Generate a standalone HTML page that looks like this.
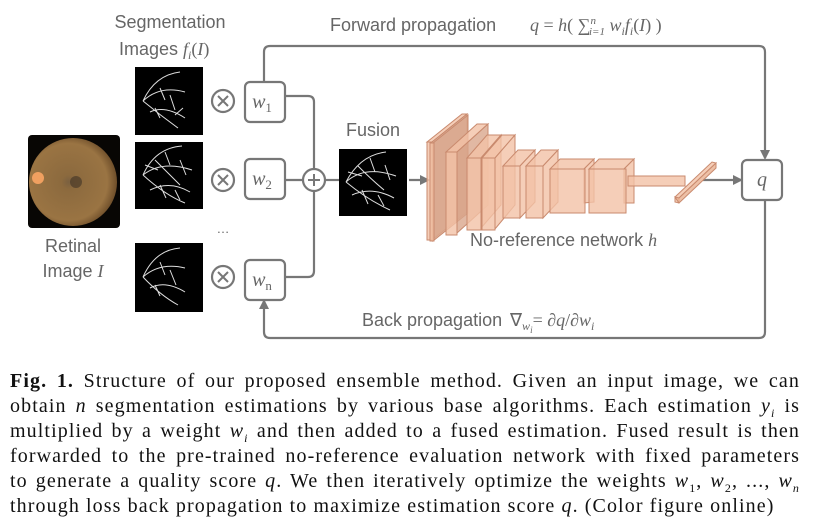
<!DOCTYPE html>
<html><head><meta charset="utf-8"><style>
body{margin:0;width:813px;height:525px;background:#fff;position:relative;overflow:hidden}
svg{position:absolute;left:0;top:0}
.cap{position:absolute;left:10px;width:790px;font-family:"Liberation Serif",serif;font-size:20px;letter-spacing:1.1px;line-height:20px;text-align:justify;text-align-last:justify;color:#111;white-space:nowrap}
.cap i{font-style:italic}
</style></head><body>
<svg width="813" height="360" viewBox="0 0 813 360" font-family="Liberation Sans, sans-serif">
<defs>
<marker id="ar" markerWidth="10" markerHeight="10" refX="8" refY="5" orient="auto" markerUnits="userSpaceOnUse"><path d="M0,0 L10,5 L0,10z" fill="#777"/></marker>
<radialGradient id="eye" cx="45%" cy="50%" r="55%"><stop offset="0" stop-color="#7a6040"/><stop offset="0.15" stop-color="#8c6a3e"/><stop offset="0.8" stop-color="#9a7443"/><stop offset="1" stop-color="#6e4e2a"/></radialGradient>
</defs>
<g fill="none" stroke="#777" stroke-width="2.2">
<path d="M264,83 V52 Q264,46 270,46 H759 Q765,46 765,52 V158" marker-end="url(#ar)"/>
<path d="M765,200 V332 Q765,338 759,338 H270 Q264,338 264,332 V301" marker-end="url(#ar)"/>
<path d="M285,96 H308 Q314,96 314,102 V271 Q314,277 308,277 H285"/>
<path d="M285,180 H303"/>
<path d="M325,180 H339"/>
<path d="M409,180 H428" marker-end="url(#ar)"/>
<path d="M703,180 H741" marker-end="url(#ar)"/>
<rect x="245" y="82" width="40" height="40" rx="5"/>
<rect x="245" y="159" width="40" height="40" rx="5"/>
<rect x="245" y="260" width="40" height="40" rx="5"/>
<rect x="742" y="160" width="40" height="40" rx="5"/>
<circle cx="314" cy="180" r="11" fill="#fff"/>
<circle cx="223" cy="101" r="11"/><circle cx="223" cy="180" r="11"/><circle cx="223" cy="277" r="11"/>
<path d="M218,96 l10,10 m0,-10 l-10,10 M218,175 l10,10 m0,-10 l-10,10 M218,272 l10,10 m0,-10 l-10,10 M314,174 v12 M308,180 h12" stroke-width="2"/>
</g>
<rect x="28" y="135" width="92" height="93" rx="4" fill="#080604"/>
<circle cx="73" cy="182" r="44" fill="url(#eye)"/>
<circle cx="38" cy="178" r="6" fill="#f0a060"/><circle cx="76" cy="182" r="6" fill="#4a3a2a" opacity="0.7"/>
<g fill="#000"><rect x="135" y="67" width="68" height="68"/><rect x="135" y="142" width="68" height="67"/><rect x="135" y="243" width="68" height="69"/><rect x="339" y="149" width="68" height="67"/></g>
<g fill="none" stroke="#ddd" stroke-width="1">
<path d="M143,101 Q155,75 180,72 M143,101 Q160,85 185,92 M143,101 Q160,115 178,128 M150,112 Q165,105 185,118 M160,88 L165,100 M170,95 L175,110 M155,108 L160,118 M175,115 L183,108"/>
<path d="M143,175 Q155,148 182,146 M143,175 Q162,160 192,170 M143,175 Q165,195 185,203 M150,190 Q170,180 190,192 M155,160 Q170,175 180,185 M165,152 L170,165 M180,160 L186,175 M160,185 L166,198 M175,190 L180,200 M145,165 L158,170"/>
<path d="M143,277 Q155,250 180,248 M143,277 Q160,262 185,268 M143,277 Q160,295 178,305 M150,288 Q165,280 185,292 M160,262 L165,275 M170,270 L176,285 M155,285 L160,296"/>
<path d="M346,182 Q360,155 386,152 M346,182 Q365,165 396,176 M346,182 Q368,200 390,210 M352,195 Q372,186 394,198 M358,166 Q372,180 384,190 M370,158 L375,172 M385,165 L390,180 M362,190 L368,204 M378,195 L384,206 M348,172 L362,176"/>
</g>
<g stroke="#c98a6e" stroke-width="1" fill="#f3c2a6" fill-opacity="0.8">
<path d="M427,142 L462,114 L467,114 L432,142z"/><path d="M432,142 L467,114 V212 L432,240z" fill="#d9a68c"/><rect x="427" y="142" width="5" height="98"/>
<path d="M433,143 L468,115 V213 L433,241z" fill="#d9a68c"/><rect x="430" y="143" width="4" height="98"/>
<path d="M446,152 L477,124 L488,124 L457,152z"/><path d="M457,152 L488,124 V205 L457,233z" fill="#d9a68c"/><rect x="446" y="152" width="11" height="83"/>
<path d="M467,158 L487,135 L501,135 L481,158z"/><path d="M481,158 L501,135 V205 L481,228z"/><rect x="467" y="158" width="14" height="72"/>
<path d="M482,158 L502,135 L515,135 L495,158z"/><path d="M495,158 L515,135 V205 L495,229z"/><rect x="482" y="158" width="13" height="72"/>
<path d="M503,166 L518,150 L535,150 L520,166z"/><path d="M520,166 L535,150 V202 L520,218z"/><rect x="503" y="166" width="17" height="52"/>
<path d="M526,166 L541,150 L558,150 L543,166z"/><path d="M543,166 L558,150 V202 L543,218z"/><rect x="526" y="166" width="17" height="52"/>
<path d="M550,169 L560,159 L594,159 L584,169z"/><path d="M584,169 L594,159 V202 L584,203z"/><rect x="550" y="169" width="35" height="44"/>
<path d="M589,169 L599,159 L634,159 L624,169z"/><path d="M624,169 L634,159 V203 L624,203z"/><rect x="589" y="169" width="37" height="44"/>
<rect x="628" y="176" width="57" height="10"/>
<path d="M675,197 L712,162 L716,163 L679,198 V203 L675,202z"/><path d="M675,197 L679,198 L716,163 L716,168 L679,203z" fill="#e8b090"/>
</g>
<g fill="#666" font-size="18">
<text x="330" y="31">Forward propagation</text>
<text x="530" y="31" font-family="Liberation Serif,serif" font-style="italic">q <tspan font-style="normal">= </tspan>h<tspan font-style="normal">( ∑</tspan><tspan font-size="11" dy="-7">n</tspan><tspan font-size="11" dy="11" dx="-7">i=1</tspan><tspan dy="-4"> w</tspan><tspan font-size="12" dy="4">i</tspan><tspan dy="-4">f</tspan><tspan font-size="12" dy="4">i</tspan><tspan dy="-4" font-style="normal">(</tspan>I<tspan font-style="normal">) )</tspan></text>
<text x="362" y="326">Back propagation</text>
<text x="510" y="326" font-family="Liberation Serif,serif">∇<tspan font-style="italic" font-size="12" dy="4">w</tspan><tspan font-style="italic" font-size="9" dy="3">i</tspan><tspan dy="-7">= ∂</tspan><tspan font-style="italic">q</tspan>/∂<tspan font-style="italic">w</tspan><tspan font-style="italic" font-size="12" dy="4">i</tspan></text>
<text x="170" y="28" text-anchor="middle">Segmentation</text>
<text x="119" y="55">Images <tspan font-family="Liberation Serif,serif" font-style="italic">f</tspan><tspan font-family="Liberation Serif,serif" font-style="italic" font-size="12" dy="4">i</tspan><tspan font-family="Liberation Serif,serif" dy="-4">(<tspan font-style="italic">I</tspan>)</tspan></text>
<text x="73" y="252" text-anchor="middle">Retinal</text>
<text x="73" y="277" text-anchor="middle">Image <tspan font-family="Liberation Serif,serif" font-style="italic">I</tspan></text>
<text x="373" y="136" text-anchor="middle">Fusion</text>
<text x="470" y="246">No-reference network <tspan font-family="Liberation Serif,serif" font-style="italic">h</tspan></text>
<text x="223" y="233" text-anchor="middle" font-size="13">…</text>
</g>
<g fill="#666" font-family="Liberation Serif,serif" font-style="italic" font-size="20" text-anchor="middle">
<text x="262" y="108">w<tspan font-style="normal" font-size="13" dy="4">1</tspan></text>
<text x="262" y="185">w<tspan font-style="normal" font-size="13" dy="4">2</tspan></text>
<text x="262" y="286">w<tspan font-style="normal" font-size="13" dy="4">n</tspan></text>
<text x="762" y="186">q</text>
</g>
</svg>
<div class="cap" style="top:371px"><b>Fig. 1.</b> Structure of our proposed ensemble method. Given an input image, we can</div>
<div class="cap" style="top:396px">obtain <i>n</i> segmentation estimations by various base algorithms. Each estimation <i>y<sub style="font-size:12px">i</sub></i> is</div>
<div class="cap" style="top:421px">multiplied by a weight <i>w<sub style="font-size:12px">i</sub></i> and then added to a fused estimation. Fused result is then</div>
<div class="cap" style="top:446px">forwarded to the pre-trained no-reference evaluation network with fixed parameters</div>
<div class="cap" style="top:471px">to generate a quality score <i>q</i>. We then iteratively optimize the weights <i>w</i><sub style="font-size:12px">1</sub>, <i>w</i><sub style="font-size:12px">2</sub>, ..., <i>w<sub style="font-size:12px">n</sub></i></div>
<div class="cap" style="top:496px;text-align-last:left">through loss back propagation to maximize estimation score <i>q</i>. (Color figure online)</div>
</body></html>
